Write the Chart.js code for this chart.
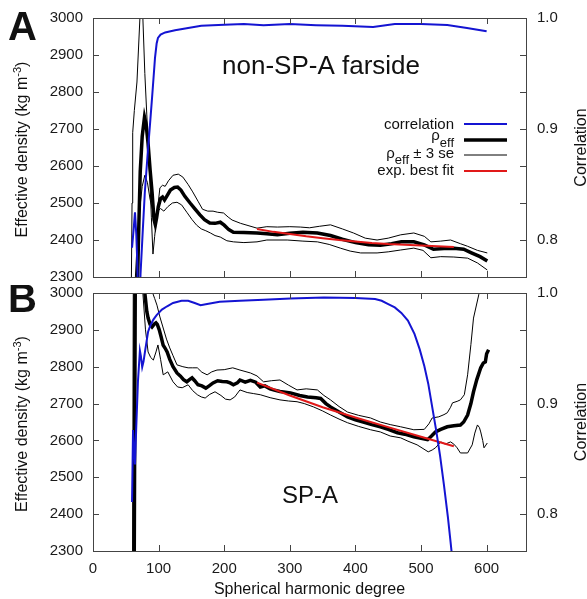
<!DOCTYPE html>
<html>
<head>
<meta charset="utf-8">
<script src="https://cdn.jsdelivr.net/npm/chart.js@4.4.0/dist/chart.umd.min.js"></script>
<style>
  html, body { margin: 0; padding: 0; background: #fff; }
  #wrap { position: relative; width: 587px; height: 599px; }
  #chartA { position: absolute; left: 0; top: 0; }
  #chartB { position: absolute; left: 0; top: 285px; }
</style>
</head>
<body>
<div id="wrap">
  <canvas id="chartA" width="587" height="285"></canvas>
  <canvas id="chartB" width="587" height="314"></canvas>
</div>
<script>
// ---- axis ticks ----
const degTicks = [0, 100, 200, 300, 400, 500, 600];
const densTicks = [2300, 2400, 2500, 2600, 2700, 2800, 2900, 3000];
const corrTicks = [0.76667, 0.8, 0.83333, 0.86667, 0.9, 0.93333, 0.96667, 1.0];
const corrLabels = ["0.8", "0.9", "1.0"];

// ---- panel A: non-SP-A farside ----
const corrDegA = [59.5, 62, 64, 66, 67.5, 69, 71, 72.5, 76, 79, 82, 84, 87, 90, 92.5, 94.5, 97, 99, 103, 110,
  125, 145, 165, 200, 230, 260, 300, 340, 380, 427, 460, 500, 540, 570, 600];
const corrA = [0.793, 0.810, 0.825, 0.805, 0.780, 0.740, 0.745, 0.770, 0.810, 0.843, 0.867, 0.883, 0.905, 0.928, 0.948, 0.964, 0.977, 0.982, 0.985, 0.987,
  0.989, 0.991, 0.993, 0.994, 0.9945, 0.9935, 0.9945, 0.9935, 0.993, 0.992, 0.9945, 0.9946, 0.9937, 0.991, 0.988];

const rhoDegA = [66, 68, 70, 72, 75, 78.5, 81, 84, 87, 90, 93, 95, 97, 99.5, 103, 106, 109, 113, 118, 124,
  129, 134, 140, 148, 155, 163, 170, 178, 186, 194, 200, 207, 214, 230, 250, 265, 281, 300, 320, 342,
  362, 380, 400, 420, 438, 455, 470, 489, 505, 519, 535, 550, 565, 576, 590, 601];
const rhoA = [2250, 2300, 2450, 2585, 2680, 2732, 2712, 2660, 2590, 2530, 2455, 2441, 2460, 2490, 2512, 2516, 2508, 2520, 2535, 2542,
  2543, 2535, 2518, 2500, 2485, 2468, 2455, 2446, 2445, 2448, 2440, 2428, 2421, 2420, 2419, 2417, 2414, 2418, 2421, 2419,
  2412, 2402, 2393, 2387, 2386, 2390, 2395, 2395, 2387, 2375, 2377, 2378, 2375, 2366, 2355, 2343];

const upDegA = [58.5, 59.5, 60.5, 63, 67, 71.5, 74, 76, 79, 82, 86.8, 89, 91.4, 94, 97.5, 102, 106, 110, 115, 122,
  130, 137, 145, 152, 160, 167, 175, 183, 190, 199, 206, 212, 225, 250, 265, 281, 300, 316, 330, 345,
  362, 380, 397, 415, 433, 450, 469, 489, 505, 515, 530, 545, 560, 571, 586, 601];
const upA = [2290, 2500, 2690, 2750, 2827, 3000, 3060, 3000, 2850, 2738, 2557, 2460, 2362, 2410, 2470, 2541, 2548, 2545, 2560, 2575,
  2578, 2570, 2550, 2530, 2505, 2483, 2478, 2478, 2475, 2473, 2462, 2454, 2445, 2432, 2436, 2435, 2436, 2435, 2433, 2437,
  2441, 2430, 2419, 2405, 2400, 2405, 2414, 2419, 2410, 2395, 2397, 2400, 2390, 2383, 2372, 2365];

const loDegA = [64, 67, 71, 75, 79, 83, 87, 91, 95, 99, 103, 108, 114, 121, 128, 135, 143, 151, 158, 165,
  172, 179, 186, 194, 204, 214, 230, 250, 265, 296, 320, 342, 360, 377, 392, 408, 433, 450, 469, 489,
  503, 515, 530, 550, 571, 586, 601];
const loA = [2280, 2380, 2480, 2545, 2575, 2555, 2510, 2480, 2468, 2478, 2485, 2478, 2490, 2500, 2502, 2495, 2475, 2455, 2440, 2430,
  2425, 2419, 2412, 2408, 2398, 2395, 2393, 2395, 2400, 2400, 2397, 2395, 2388, 2378, 2370, 2365, 2365, 2368, 2373, 2378,
  2372, 2352, 2355, 2354, 2351, 2338, 2319];

const fitDegA = [250, 275, 300, 325, 350, 375, 400, 425, 450, 475, 500, 525, 550];
const fitA = [2430, 2422, 2416, 2410, 2405, 2400, 2396, 2392, 2389, 2387, 2385, 2383, 2381];

// ---- panel B: SP-A ----
const corrDegB = [59.5, 61, 62.5, 64, 66, 68.5, 71.5, 73, 75, 77, 80, 84, 87, 92, 97, 105, 113, 122, 135, 145,
  155, 164, 174, 193, 224, 260, 301, 352, 400, 430, 440, 450, 460, 470, 480, 490, 498, 505, 511, 517,
  523, 529, 535, 541, 545, 549];
const corrB = [0.811, 0.876, 0.860, 0.845, 0.880, 0.920, 0.948, 0.943, 0.933, 0.938, 0.950, 0.965, 0.970, 0.976, 0.980, 0.985, 0.988, 0.991, 0.993, 0.993,
  0.991, 0.989, 0.990, 0.992, 0.993, 0.994, 0.995, 0.996, 0.9955, 0.9945, 0.993, 0.990, 0.987, 0.982, 0.975, 0.963, 0.949, 0.934, 0.918, 0.897,
  0.876, 0.853, 0.826, 0.797, 0.775, 0.752];

const rhoDegB = [62.5, 65, 71, 76, 79, 82, 84, 87, 90, 93, 96, 98, 101, 104, 107, 110, 113, 117, 122, 128,
  133, 138, 143, 147, 151, 155, 160, 166, 172, 177, 183, 190, 197, 204, 209, 214, 220, 224, 232, 240,
  248, 255, 262, 270, 275, 285, 301, 315, 327, 340, 347, 355, 362, 375, 388, 400, 412, 425, 438, 450,
  464, 475, 489, 500, 510, 516, 522, 530, 540, 550, 560, 565, 571, 576, 580, 585, 591, 595, 598, 600, 603];
const rhoB = [2100, 3300, 3350, 3150, 3000, 2950, 2932, 2915, 2908, 2915, 2919, 2915, 2900, 2880, 2858, 2850, 2840, 2820, 2800, 2783,
  2775, 2765, 2759, 2765, 2770, 2762, 2751, 2748, 2742, 2748, 2756, 2762, 2760, 2759, 2756, 2751, 2756, 2764, 2758, 2763,
  2758, 2745, 2748, 2740, 2737, 2733, 2729, 2722, 2718, 2716, 2714, 2700, 2691, 2677, 2664, 2656, 2650, 2643, 2637, 2630,
  2621, 2617, 2610, 2606, 2602, 2612, 2623, 2630, 2637, 2640, 2642, 2650, 2669, 2700, 2732, 2765, 2797, 2810, 2813, 2835, 2846];

const upDegB = [60, 62, 80, 88, 91, 94, 97.5, 102, 107, 112, 117, 122, 128, 137, 145, 152, 159, 166, 174, 181,
  189, 200, 213, 224, 240, 250, 260, 272, 285, 298, 311, 325, 342, 352, 362, 375, 388, 405, 423, 438,
  453, 469, 489, 505, 512, 517, 527, 535, 540, 545, 548, 555, 560, 566, 571, 576, 580, 588, 594];
const upB = [2100, 3400, 3300, 3050, 3000, 2985, 2967, 2935, 2905, 2875, 2851, 2830, 2805, 2800, 2797, 2797, 2797, 2785, 2778, 2786,
  2791, 2792, 2797, 2791, 2783, 2775, 2759, 2762, 2764, 2750, 2737, 2740, 2737, 2722, 2710, 2692, 2677, 2668, 2661, 2650,
  2643, 2637, 2629, 2630, 2645, 2661, 2664, 2670, 2675, 2690, 2702, 2706, 2710, 2724, 2778, 2860, 2932, 2995, 3100];

const loDegB = [61, 63, 72, 76, 80, 84, 88, 92, 96, 99, 103, 107, 114, 122, 129, 136, 145, 152, 159, 165,
  171, 178, 186, 195, 202, 209, 216, 224, 235, 245, 255, 270, 285, 298, 311, 322, 336, 350, 362, 375,
  388, 405, 423, 438, 453, 469, 480, 494, 503, 511, 517, 522, 530, 537, 545, 550, 555, 560, 571, 578,
  582, 586, 589, 591, 594, 596, 598, 601];
const loB = [2100, 3400, 3300, 3000, 2900, 2840, 2825, 2818, 2840, 2859, 2820, 2778, 2786, 2759, 2745, 2743, 2751, 2735, 2724, 2718,
  2715, 2725, 2732, 2722, 2712, 2710, 2718, 2737, 2730, 2727, 2724, 2716, 2710, 2707, 2705, 2700, 2691, 2680, 2669, 2658,
  2648, 2638, 2629, 2623, 2612, 2607, 2598, 2588, 2578, 2569, 2574, 2580, 2596, 2590, 2596, 2590, 2580, 2566, 2566, 2588,
  2620, 2642, 2635, 2623, 2600, 2580, 2585, 2593];

const fitDegB = [250, 300, 350, 400, 450, 500, 550];
const fitB = [2757, 2722, 2690, 2662, 2636, 2610, 2584];

const blue = "rgb(20, 20, 210)";
const red = "rgb(225, 25, 25)";
const black = "#000";
const sans = '"Liberation Sans", Arial, sans-serif';

Chart.defaults.font.family = sans;
Chart.defaults.font.size = 15;
Chart.defaults.color = "#1a1a1a";

function series(degs, vals, color, width, axis) {
  return {
    data: degs.map((d, i) => ({ x: d, y: vals[i] })),
    borderColor: color,
    borderWidth: width,
    yAxisID: axis,
    pointRadius: 0,
    tension: 0,
    fill: false,
  };
}

// text runs: [text, size, dy]
function runsWidth(ctx, runs) {
  let w = 0;
  runs.forEach((r) => {
    ctx.font = r[1] + "px " + sans;
    w += ctx.measureText(r[0]).width;
  });
  return w;
}
function drawRuns(ctx, runs, x, y) {
  runs.forEach((r) => {
    ctx.font = r[1] + "px " + sans;
    ctx.fillText(r[0], x, y + r[2]);
    x += ctx.measureText(r[0]).width;
  });
}

// no automatic label padding around the plot box
function noPad(s) {
  s.paddingTop = 0;
  s.paddingBottom = 0;
  s.paddingLeft = 0;
  s.paddingRight = 0;
}

const framePlugin = {
  id: "frame",
  afterDatasetsDraw(chart, args, o) {
    const { ctx, chartArea: a, scales } = chart;
    ctx.save();
    // box + inward ticks
    ctx.strokeStyle = "#444";
    ctx.lineWidth = 1;
    ctx.strokeRect(a.left + 0.5, a.top + 0.5, a.right - a.left, a.bottom - a.top);
    ctx.beginPath();
    scales.x.ticks.forEach((t) => {
      const x = Math.round(scales.x.getPixelForValue(t.value)) + 0.5;
      ctx.moveTo(x, a.top); ctx.lineTo(x, a.top + 6);
      ctx.moveTo(x, a.bottom); ctx.lineTo(x, a.bottom - 6);
    });
    scales.y.ticks.forEach((t) => {
      const y = Math.round(scales.y.getPixelForValue(t.value)) + 0.5;
      ctx.moveTo(a.left, y); ctx.lineTo(a.left + 6, y);
    });
    scales.yR.ticks.forEach((t) => {
      const y = Math.round(scales.yR.getPixelForValue(t.value)) + 0.5;
      ctx.moveTo(a.right, y); ctx.lineTo(a.right - 6, y);
    });
    ctx.stroke();

    ctx.fillStyle = "#111";
    ctx.textBaseline = "alphabetic";
    ctx.textAlign = "left";

    // panel letter
    ctx.font = "bold 40px " + sans;
    ctx.fillText(o.letter, 8, o.letterY);

    // region name
    ctx.font = o.noteSize + "px " + sans;
    ctx.fillText(o.note, o.noteX, o.noteY);

    // left axis title with superscript
    const cyL = (a.top + a.bottom) / 2 + 2;
    const left = [["Effective density (kg m", 16, 0], ["-3", 11, -6], [")", 16, 0]];
    ctx.save();
    ctx.translate(27, cyL);
    ctx.rotate(-Math.PI / 2);
    drawRuns(ctx, left, -runsWidth(ctx, left) / 2, 0);
    ctx.restore();

    // right axis title
    ctx.save();
    ctx.translate(586, (a.top + a.bottom) / 2);
    ctx.rotate(-Math.PI / 2);
    ctx.font = "16px " + sans;
    ctx.textAlign = "center";
    ctx.fillText("Correlation", 0, 0);
    ctx.restore();

    if (o.xTitle) {
      ctx.font = "16px " + sans;
      ctx.textAlign = "center";
      ctx.fillText(o.xTitle, (a.left + a.right) / 2, o.xTitleY);
      ctx.textAlign = "left";
    }

    if (o.legend) {
      const xr = 454, x0 = 464, x1 = 507;
      const rows = [
        { runs: [["correlation", 15, 0]], base: 129, ly: 124, color: blue, w: 2 },
        { runs: [["\u03c1", 15, 0], ["eff", 13, 7]], base: 140, ly: 140, color: black, w: 3.5 },
        { runs: [["\u03c1", 15, 0], ["eff", 13, 6], [" \u00b1 3 se", 15, 0]], base: 158, ly: 155, color: black, w: 1 },
        { runs: [["exp. best fit", 15, 0]], base: 175, ly: 171, color: red, w: 2 },
      ];
      rows.forEach((r) => {
        ctx.fillStyle = "#111";
        drawRuns(ctx, r.runs, xr - runsWidth(ctx, r.runs), r.base);
        ctx.strokeStyle = r.color;
        ctx.lineWidth = r.w;
        ctx.beginPath();
        ctx.moveTo(x0, r.ly);
        ctx.lineTo(x1, r.ly);
        ctx.stroke();
      });
    }
    ctx.restore();
  },
};

function makePanel(id, d, opts) {
  return new Chart(document.getElementById(id), {
    type: "line",
    data: {
      datasets: [
        series(d.corrDeg, d.corr, blue, 2, "yR"),
        series(d.fitDeg, d.fit, red, 2, "y"),
        series(d.rhoDeg, d.rho, black, 3.5, "y"),
        series(d.upDeg, d.up, black, 1, "y"),
        series(d.loDeg, d.lo, black, 1, "y"),
      ],
    },
    options: {
      responsive: false,
      animation: false,
      devicePixelRatio: 1,
      layout: { padding: { top: opts.padTop, left: 0, right: 0, bottom: 0 } },
      plugins: {
        legend: { display: false },
        tooltip: { enabled: false },
        frame: opts.frame,
      },
      scales: {
        x: {
          type: "linear",
          min: 0,
          max: 660,
          afterBuildTicks: (s) => { s.ticks = degTicks.map((v) => ({ value: v })); },
          afterFit: (s) => { s.height = opts.xHeight; noPad(s); },
          ticks: { display: opts.xLabels, padding: 9, font: { size: 15 }, callback: (v) => String(v) },
          grid: { display: false, drawTicks: false },
          border: { display: false },
        },
        y: {
          position: "left",
          min: 2300,
          max: 3000,
          afterBuildTicks: (s) => { s.ticks = densTicks.map((v) => ({ value: v })); },
          afterFit: (s) => { s.width = 93; noPad(s); },
          ticks: { padding: 10, font: { size: 15 }, callback: (v) => String(v) },
          grid: { display: false, drawTicks: false },
          border: { display: false },
        },
        yR: {
          position: "right",
          min: 0.76667,
          max: 1.0,
          afterBuildTicks: (s) => { s.ticks = corrTicks.map((v) => ({ value: v })); },
          afterFit: (s) => { s.width = 61; noPad(s); },
          ticks: {
            padding: 11,
            font: { size: 15 },
            callback: (v) => {
              const s = v.toFixed(1);
              return Math.abs(v - Number(s)) < 1e-4 && corrLabels.includes(s) ? s : "";
            },
          },
          grid: { display: false, drawTicks: false },
          border: { display: false },
        },
      },
    },
    plugins: [framePlugin],
  });
}

makePanel("chartA",
  { corrDeg: corrDegA, corr: corrA, rhoDeg: rhoDegA, rho: rhoA, upDeg: upDegA, up: upA,
    loDeg: loDegA, lo: loA, fitDeg: fitDegA, fit: fitA },
  { padTop: 18, xHeight: 8, xLabels: false,
    frame: { letter: "A", letterY: 40, note: "non-SP-A farside", noteSize: 26, noteX: 222, noteY: 74, legend: true } });

makePanel("chartB",
  { corrDeg: corrDegB, corr: corrB, rhoDeg: rhoDegB, rho: rhoB, upDeg: upDegB, up: upB,
    loDeg: loDegB, lo: loB, fitDeg: fitDegB, fit: fitB },
  { padTop: 8, xHeight: 48, xLabels: true,
    frame: { letter: "B", letterY: 27, note: "SP-A", noteSize: 24, noteX: 282, noteY: 218, legend: false,
             xTitle: "Spherical harmonic degree", xTitleY: 309 } });
</script>
</body>
</html>
